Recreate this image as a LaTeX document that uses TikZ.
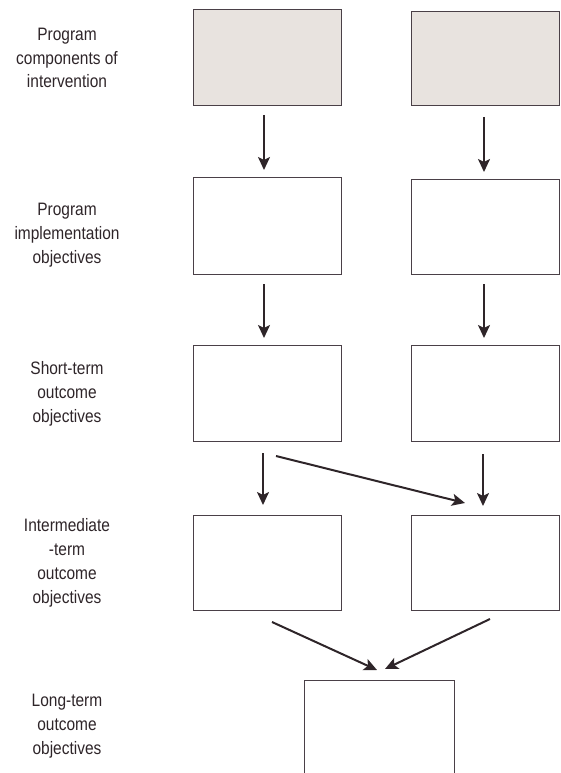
\documentclass[tikz,border=0pt]{standalone}
\usepackage{fontspec}
\setmainfont{Liberation Sans}[FakeStretch=0.86]
\usetikzlibrary{arrows.meta}
\definecolor{ink}{HTML}{2E2529}
\definecolor{edge}{HTML}{4A4047}
\definecolor{shade}{HTML}{E8E3DF}
\tikzset{
  box/.style={draw=edge, line width=1pt, minimum width=148pt, inner sep=0pt, outer sep=0pt},
  graybox/.style={box, fill=shade},
  arr/.style={draw=ink, line width=2pt, -{Stealth[length=13pt,width=12pt,inset=3pt]}},
  lab/.style={text=ink, align=center, font=\fontsize{18}{23.8}\selectfont, inner sep=0pt}
}
\begin{document}
\begin{tikzpicture}[x=1pt,y=-1pt]
\useasboundingbox (0,0) rectangle (560,773);
\clip (0,0) rectangle (560,773);
% labels
\node[lab] (l1) at (67,58) {Program\\components of\\intervention};
\node[lab] (l2) at (67,235) {Program\\implementation\\objectives};
\node[lab] (l3) at (67,394) {Short-term\\outcome\\objectives};
\node[lab] (l4) at (67,563) {Intermediate\\-term\\outcome\\objectives};
\node[lab] (l5) at (67,726) {Long-term\\outcome\\objectives};
% boxes
\node[graybox, minimum height=96pt] (a1) at (267,58) {};
\node[graybox, minimum height=94pt] (a2) at (485,59) {};
\node[box, minimum height=97pt] (b1) at (267,225.5) {};
\node[box, minimum height=95pt] (b2) at (485,226.5) {};
\node[box, minimum height=96pt] (c1) at (267,393) {};
\node[box, minimum height=96pt] (c2) at (485,393) {};
\node[box, minimum height=95pt] (d1) at (267,562.5) {};
\node[box, minimum height=95pt] (d2) at (485,562.5) {};
\node[box, minimum width=150pt, minimum height=120pt] (e) at (379,740) {};
% arrows
\draw[arr, shorten <=9pt, shorten >=7pt] ([xshift=-3pt]a1.south) -- ([xshift=-3pt]b1.north);
\draw[arr, shorten <=11pt, shorten >=7pt] ([xshift=-1pt]a2.south) -- ([xshift=-1pt]b2.north);
\draw[arr, shorten <=10pt, shorten >=7pt] ([xshift=-3pt]b1.south) -- ([xshift=-3pt]c1.north);
\draw[arr, shorten <=10pt, shorten >=7pt] ([xshift=-1pt]b2.south) -- ([xshift=-1pt]c2.north);
\draw[arr, shorten <=12pt, shorten >=10pt] ([xshift=-4pt]c1.south) -- ([xshift=-4pt]d1.north);
\draw[arr, shorten <=13pt, shorten >=9pt] ([xshift=-2pt]c2.south) -- ([xshift=-2pt]d2.north);
\draw[arr] ([xshift=9pt,yshift=-15pt]c1.south) -- ([xshift=-20pt,yshift=12pt]d2.north);
\draw[arr] ([xshift=5pt,yshift=-12pt]d1.south) -- ([xshift=-2pt,yshift=10pt]e.north);
\draw[arr] ([xshift=5pt,yshift=-9pt]d2.south) -- ([xshift=6pt,yshift=11pt]e.north);
\end{tikzpicture}
\end{document}
